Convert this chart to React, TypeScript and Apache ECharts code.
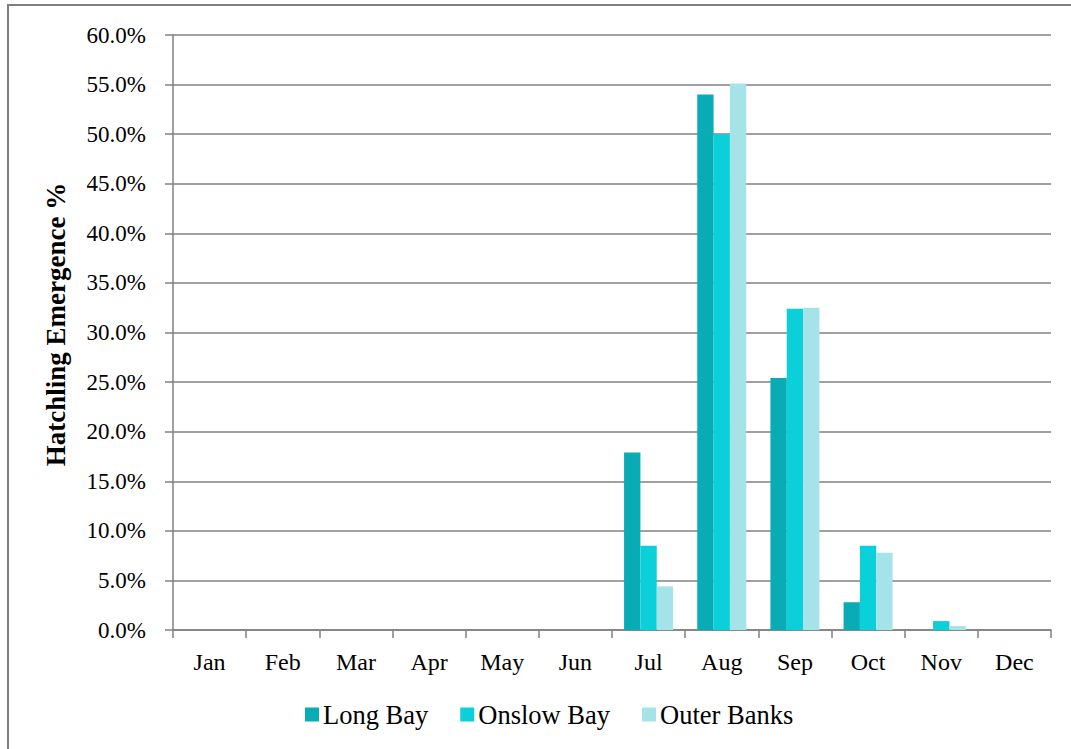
import React, { useEffect, useRef } from "react";
import * as echarts from "echarts";

const months = ["Jan", "Feb", "Mar", "Apr", "May", "Jun", "Jul", "Aug", "Sep", "Oct", "Nov", "Dec"];
const longBay = [0, 0, 0, 0, 0, 0, 17.9, 54.0, 25.4, 2.8, 0, 0];
const onslowBay = [0, 0, 0, 0, 0, 0, 8.5, 50.0, 32.4, 8.5, 0.9, 0];
const outerBanks = [0, 0, 0, 0, 0, 0, 4.4, 55.1, 32.5, 7.8, 0.4, 0];
const seriesNames = ["Long Bay", "Onslow Bay", "Outer Banks"];
const colors = ["#09ACB4", "#0BD0D9", "#A4E3E8"];

const FONT = "'Liberation Serif', 'Times New Roman', serif";

export default function App() {
  const ref = useRef<HTMLDivElement>(null);
  useEffect(() => {
    if (!ref.current) return;
    const chart = echarts.init(ref.current, null, { renderer: "svg" });
    const data = [longBay, onslowBay, outerBanks];
    chart.setOption({
      animation: false,
      backgroundColor: "#ffffff",
      textStyle: { fontFamily: FONT },
      graphic: [
        {
          type: "rect",
          shape: { x: 8, y: 5, width: 1200, height: 900 },
          style: { fill: "none", stroke: "#7f7f7f", lineWidth: 2 },
          silent: true,
        },
      ],
      grid: { left: 173, right: 20, top: 35, bottom: 119 },
      legend: {
        bottom: 16,
        left: 300,
        itemWidth: 14,
        itemHeight: 14,
        itemGap: 32,
        icon: "rect",
        textStyle: { fontFamily: FONT, fontSize: 26.5, color: "#000", padding: [0, 0, 0, -1] },
        data: seriesNames,
      },
      xAxis: {
        type: "category",
        data: months,
        axisLine: { lineStyle: { color: "#808080", width: 1.5 } },
        axisTick: { show: true, length: 8, alignWithLabel: false, lineStyle: { color: "#808080", width: 1.5 } },
        axisLabel: { fontFamily: FONT, fontSize: 24, color: "#000", margin: 20 },
        splitLine: { show: false },
      },
      yAxis: {
        type: "value",
        min: 0,
        max: 60,
        interval: 5,
        name: "Hatchling Emergence %",
        nameLocation: "middle",
        nameGap: 104,
        nameTextStyle: {
          fontFamily: FONT,
          fontSize: 27,
          fontWeight: "bold",
          color: "#000",
          padding: [0, 0, 0, 16],
        },
        axisLine: { show: true, lineStyle: { color: "#808080", width: 1.5 } },
        axisTick: { show: true, length: 8, lineStyle: { color: "#808080", width: 1.5 } },
        axisLabel: {
          fontFamily: FONT,
          fontSize: 23,
          color: "#000",
          margin: 27,
          formatter: (v: number) => v.toFixed(1) + "%",
        },
        splitLine: { show: true, lineStyle: { color: "#808080", width: 1.5 } },
      },
      series: seriesNames.map((n, i) => ({
        name: n,
        type: "bar",
        data: data[i],
        barGap: "0%",
        barCategoryGap: "33%",
        itemStyle: { color: colors[i] },
      })),
    });
    return () => chart.dispose();
  }, []);
  return (
    <div
      ref={ref}
      style={{ position: "absolute", left: 0, top: 0, width: 1071, height: 749 }}
    />
  );
}
